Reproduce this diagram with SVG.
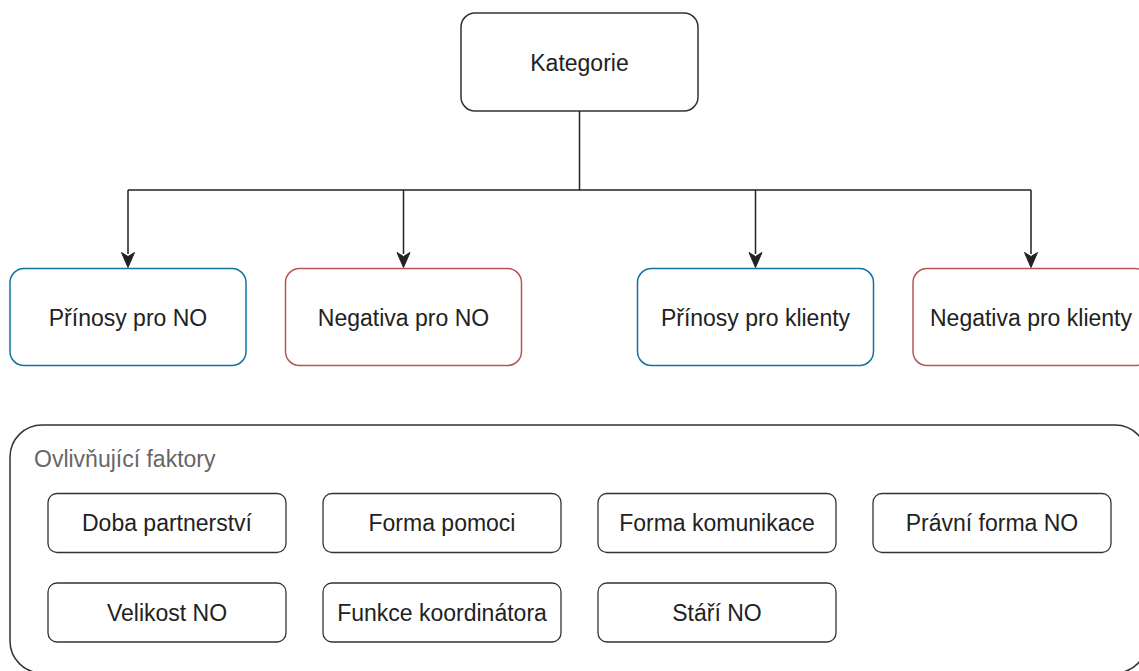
<svg xmlns="http://www.w3.org/2000/svg" width="1139" height="671" viewBox="0 0 1139 671">
  <defs>
    <style>
      .lbl { font-family: "Liberation Sans", Arial, Helvetica, sans-serif; font-size: 23px; fill: #222; text-anchor: middle; }
      .cap { font-family: "Liberation Sans", Arial, Helvetica, sans-serif; font-size: 23px; fill: #666; }
      .plain { fill: #fff; stroke: #333; stroke-width: 1.5; }
      .pos { fill: #fff; stroke: #10739E; stroke-width: 1.5; }
      .neg { fill: #fff; stroke: #B85450; stroke-width: 1.5; }
      .item { fill: #fff; stroke: #333; stroke-width: 1.3; }
      .wire { fill: none; stroke: #222; stroke-width: 1.5; }
      .head { fill: #222; stroke: #222; stroke-width: 1; }
    </style>
  </defs>
  <rect width="1139" height="671" fill="#fff"/>

  <!-- root category -->
  <g id="kategorie">
    <rect class="plain" x="461" y="13" width="237" height="98" rx="14"/>
    <text class="lbl" x="579.5" y="71">Kategorie</text>
  </g>

  <!-- tree connectors -->
  <g id="connectors">
    <path class="wire" d="M579.5 111 V190 M128 190 H1031 M128 190 V254 M403.5 190 V254 M755.5 190 V254 M1031 190 V254"/>
    <path class="head" d="M121.5 252.5 L128 256.5 L134.5 252.5 L128 267.5 Z"/>
    <path class="head" d="M397 252.5 L403.5 256.5 L410 252.5 L403.5 267.5 Z"/>
    <path class="head" d="M749 252.5 L755.5 256.5 L762 252.5 L755.5 267.5 Z"/>
    <path class="head" d="M1024.5 252.5 L1031 256.5 L1037.5 252.5 L1031 267.5 Z"/>
  </g>

  <!-- category nodes -->
  <g id="prinosy-no">
    <rect class="pos" x="10" y="268.5" width="236" height="97" rx="14"/>
    <text class="lbl" x="128" y="326">Přínosy pro NO</text>
  </g>
  <g id="negativa-no">
    <rect class="neg" x="285.5" y="268.5" width="236" height="97" rx="14"/>
    <text class="lbl" x="403.5" y="326">Negativa pro NO</text>
  </g>
  <g id="prinosy-klienti">
    <rect class="pos" x="637.5" y="268.5" width="236" height="97" rx="14"/>
    <text class="lbl" x="755.5" y="326">Přínosy pro klienty</text>
  </g>
  <g id="negativa-klienti">
    <rect class="neg" x="913" y="268.5" width="236" height="97" rx="14"/>
    <text class="lbl" x="1031" y="326">Negativa pro klienty</text>
  </g>

  <!-- influencing factors container -->
  <g id="faktory">
    <rect class="plain" x="10" y="425" width="1137" height="248" rx="32"/>
    <text class="cap" x="34" y="467">Ovlivňující faktory</text>
  </g>

  <g id="doba-partnerstvi">
    <rect class="item" x="48" y="493.5" width="238" height="59" rx="9"/>
    <text class="lbl" x="167" y="531">Doba partnerství</text>
  </g>
  <g id="forma-pomoci">
    <rect class="item" x="323" y="493.5" width="238" height="59" rx="9"/>
    <text class="lbl" x="442" y="531">Forma pomoci</text>
  </g>
  <g id="forma-komunikace">
    <rect class="item" x="598" y="493.5" width="238" height="59" rx="9"/>
    <text class="lbl" x="717" y="531">Forma komunikace</text>
  </g>
  <g id="pravni-forma">
    <rect class="item" x="873" y="493.5" width="238" height="59" rx="9"/>
    <text class="lbl" x="992" y="531">Právní forma NO</text>
  </g>
  <g id="velikost-no">
    <rect class="item" x="48" y="583" width="238" height="59" rx="9"/>
    <text class="lbl" x="167" y="620.5">Velikost NO</text>
  </g>
  <g id="funkce-koordinatora">
    <rect class="item" x="323" y="583" width="238" height="59" rx="9"/>
    <text class="lbl" x="442" y="620.5">Funkce koordinátora</text>
  </g>
  <g id="stari-no">
    <rect class="item" x="598" y="583" width="238" height="59" rx="9"/>
    <text class="lbl" x="717" y="620.5">Stáří NO</text>
  </g>
</svg>
